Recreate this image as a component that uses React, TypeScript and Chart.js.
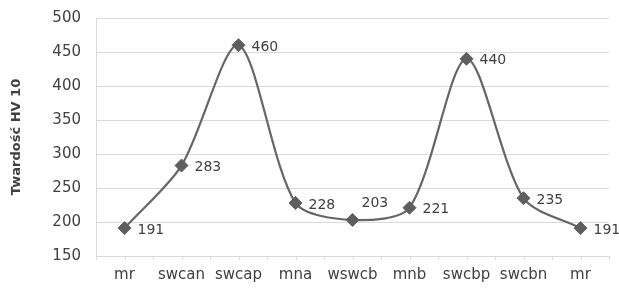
import React, { useEffect, useRef } from "react";
import { Chart, registerables } from "chart.js";

Chart.register(...registerables);

const categories: string[] = ["mr", "swcan", "swcap", "mna", "wswcb", "mnb", "swcbp", "swcbn", "mr"];
const hardness: number[] = [191, 283, 460, 228, 203, 221, 440, 235, 191];
const yMin = 150;
const yMax = 500;
const yStep = 50;
const yTitle = "Twardość HV 10";

const FONT = "'DejaVu Sans', sans-serif";
const TEXT = "#404040";
const GRID = "#d9d9d9";
const LINE = "#666666";

// label placed above the point instead of to the right (index of the "wswcb" point)
const LIFTED_LABEL = 4;

const labelPlugin = {
  id: "valueLabels",
  afterDatasetsDraw(chart: any) {
    const ctx = chart.ctx;
    const meta = chart.getDatasetMeta(0);
    ctx.save();
    ctx.font = `14px ${FONT}`;
    ctx.fillStyle = TEXT;
    ctx.textAlign = "left";
    ctx.textBaseline = "middle";
    meta.data.forEach((pt: any, i: number) => {
      if (i === LIFTED_LABEL) {
        ctx.fillText(String(hardness[i]), pt.x + 9, pt.y - 17);
      } else {
        ctx.fillText(String(hardness[i]), pt.x + 13, pt.y + 2);
      }
    });
    ctx.restore();
  },
};

const xTickPlugin = {
  id: "xTicks",
  afterDraw(chart: any) {
    const ctx = chart.ctx;
    const xs = chart.scales.x;
    const bottom = chart.chartArea.bottom;
    const n = categories.length;
    const w = (xs.right - xs.left) / n;
    ctx.save();
    ctx.strokeStyle = GRID;
    ctx.lineWidth = 1;
    ctx.beginPath();
    for (let i = 0; i <= 2 * n; i++) {
      const x = Math.round(xs.left + (i * w) / 2) + 0.5;
      ctx.moveTo(x, bottom);
      ctx.lineTo(x, bottom + 4);
    }
    ctx.stroke();
    ctx.restore();
  },
};

export default function App() {
  const ref = useRef<HTMLCanvasElement>(null);
  useEffect(() => {
    if (!ref.current) return;
    const chart = new Chart(ref.current, {
      type: "line",
      data: {
        labels: categories,
        datasets: [
          {
            data: hardness,
            borderColor: LINE,
            borderWidth: 2.2,
            backgroundColor: "#5e5e5e",
            pointBackgroundColor: "#5e5e5e",
            pointBorderColor: "#5e5e5e",
            pointBorderWidth: 1,
            pointStyle: "rectRot",
            pointRadius: 6.5,
            tension: 0.28,
            fill: false,
          },
        ],
      },
      options: {
        animation: false,
        responsive: false,
        devicePixelRatio: 1,
        layout: { padding: { left: 0, right: 10, top: 18, bottom: 0 } },
        plugins: { legend: { display: false }, tooltip: { enabled: false } },
        scales: {
          x: {
            type: "category",
            offset: true,
            grid: { display: false },
            border: { display: true, color: GRID, width: 1 },
            ticks: { color: TEXT, font: { family: FONT, size: 15 }, padding: 2, maxRotation: 0, autoSkip: false },
            afterFit: (s: any) => {
              s.height = 35;
            },
          },
          y: {
            min: yMin,
            max: yMax,
            ticks: { stepSize: yStep, color: TEXT, font: { family: FONT, size: 15 }, padding: 15 },
            grid: { color: GRID, lineWidth: 1, drawTicks: false },
            border: { display: true, color: GRID, width: 1 },
            title: {
              display: true,
              text: yTitle,
              color: TEXT,
              font: { family: FONT, size: 13, weight: "bold" },
              padding: { top: 9, bottom: 0 },
            },
            afterFit: (s: any) => {
              s.width = 96;
              s.paddingTop = 0;
              s.paddingBottom = 0;
            },
          },
        },
      },
      plugins: [labelPlugin, xTickPlugin],
    });
    return () => chart.destroy();
  }, []);
  return (
    <div style={{ position: "fixed", left: 0, top: 0, width: 619, height: 291, background: "#fff" }}>
      <canvas ref={ref} width={619} height={291} style={{ display: "block" }} />
    </div>
  );
}
